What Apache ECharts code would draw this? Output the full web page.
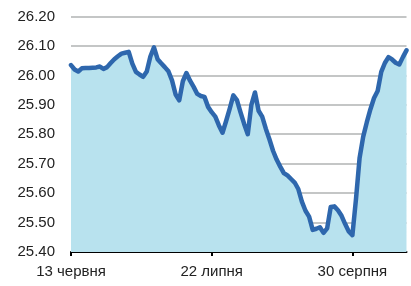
<!DOCTYPE html>
<html><head><meta charset="utf-8">
<script src="https://cdn.jsdelivr.net/npm/echarts@6/dist/echarts.min.js"></script>
<style>html,body{margin:0;padding:0;background:#fff}#c{width:411px;height:286px}</style>
</head><body><div id="c"></div>
<script>
// Daily values from 13 June (index 0) to ~14 September
const rates = [
 26.035,26.020,26.013,26.024,26.025,26.025,26.026,26.027,26.030,26.022,
 26.028,26.042,26.055,26.065,26.074,26.077,26.080,26.040,26.012,26.003,
 25.995,26.013,26.064,26.095,26.055,26.041,26.028,26.014,25.983,25.935,
 25.915,25.980,26.008,25.982,25.961,25.937,25.930,25.927,25.893,25.875,
 25.860,25.830,25.805,25.845,25.887,25.932,25.916,25.874,25.835,25.800,
 25.900,25.942,25.880,25.860,25.819,25.783,25.744,25.714,25.690,25.668,
 25.660,25.648,25.636,25.614,25.571,25.540,25.520,25.475,25.479,25.484,
 25.465,25.480,25.553,25.555,25.542,25.523,25.495,25.470,25.457,25.580,
 25.720,25.792,25.841,25.885,25.923,25.947,26.012,26.042,26.062,26.054,
 26.043,26.037,26.062,26.085
];
const tickLabels = ['13 червня', '22 липня', '30 серпня'];
const tickStep = 39; // days between labelled ticks
const yMin = 25.4, yMax = 26.2, yStep = 0.1;

const categories = rates.map((_, i) => String(i));

const chart = echarts.init(document.getElementById('c'), null, {renderer: 'canvas'});
chart.setOption({
  animation: false,
  grid: {left: 71, right: 4.5, top: 16.5, bottom: 34},
  xAxis: {
    type: 'category',
    data: categories,
    boundaryGap: false,
    axisLine: {show: true, lineStyle: {color: '#000', width: 2}},
    axisTick: {show: true, interval: tickStep - 1, length: 4, lineStyle: {color: '#000', width: 2}},
    axisLabel: {
      interval: tickStep - 1,
      formatter: (v, i) => tickLabels[Math.round(i / tickStep)] || '',
      color: '#222', fontFamily: 'Liberation Sans, Arial, sans-serif', fontSize: 15, margin: 12
    },
    splitLine: {show: false}
  },
  yAxis: {
    type: 'value',
    min: yMin, max: yMax, interval: yStep,
    axisLine: {show: false},
    axisTick: {show: false},
    axisLabel: {
      formatter: v => v.toFixed(2),
      color: '#222', fontFamily: 'Liberation Sans, Arial, sans-serif', fontSize: 15, margin: 16
    },
    splitLine: {show: true, lineStyle: {color: '#c4c6c6', width: 2}}
  },
  series: [{
    type: 'line',
    data: rates,
    showSymbol: false,
    symbol: 'none',
    lineStyle: {color: '#2e67ad', width: 4.5, join: 'round', cap: 'round'},
    areaStyle: {color: '#b8e2ee', opacity: 1, origin: 'start'},
    z: 3
  }]
});
</script></body></html>
